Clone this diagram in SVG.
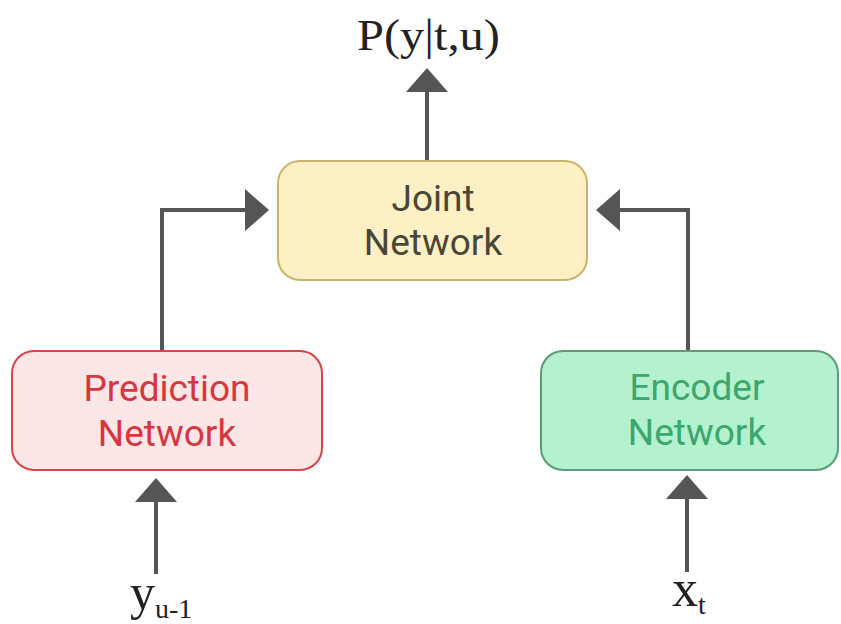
<svg xmlns="http://www.w3.org/2000/svg" width="841" height="624" viewBox="0 0 841 624">
<style>
.lbl{font-family:Roboto,"Liberation Sans",sans-serif;font-size:37px;text-anchor:middle}
.math{font-family:"Liberation Serif","DejaVu Serif",serif;fill:#222}
.conn{stroke:#555;stroke-width:4;fill:none}
</style>
<defs>
<marker id="ah" viewBox="0 0 24 42" refX="1" refY="21" markerWidth="24" markerHeight="42" markerUnits="userSpaceOnUse" orient="auto">
<path d="M0,0 L24,21 L0,42 z" fill="#555"/>
</marker>
</defs>
<rect width="841" height="624" fill="#fff"/>
<g id="connectors">
<polyline class="conn" points="162,350 162,210 246,210" marker-end="url(#ah)"/>
<polyline class="conn" points="688,350 688,210 619,210" marker-end="url(#ah)"/>
<line class="conn" x1="427" y1="161" x2="427" y2="91" marker-end="url(#ah)"/>
<line class="conn" x1="156" y1="574" x2="156" y2="501" marker-end="url(#ah)"/>
<line class="conn" x1="687" y1="572" x2="687" y2="498" marker-end="url(#ah)"/>
</g>
<g id="joint">
<rect x="278" y="161" width="309" height="119" rx="22" fill="#fdf0c4" stroke="#c9b46e" stroke-width="2"/>
<text class="lbl" x="433" y="211" fill="#4a4636">Joint</text>
<text class="lbl" x="433" y="255" fill="#4a4636">Network</text>
</g>
<g id="prediction">
<rect x="12" y="351" width="310" height="119" rx="22" fill="#fde6e6" stroke="#d5454c" stroke-width="2"/>
<text class="lbl" x="167" y="401" fill="#d6363f">Prediction</text>
<text class="lbl" x="167" y="446" fill="#d6363f">Network</text>
</g>
<g id="encoder">
<rect x="541" y="351" width="297" height="119" rx="22" fill="#b3f1cf" stroke="#5c9a7a" stroke-width="2"/>
<text class="lbl" x="697" y="400" fill="#3da66b">Encoder</text>
<text class="lbl" x="697" y="445" fill="#3da66b">Network</text>
</g>
<g id="output">
<text class="math" x="357" y="50" font-size="44" textLength="143" lengthAdjust="spacingAndGlyphs">P(y|t,u)</text>
</g>
<g id="input-y">
<text class="math" x="130" y="609" font-size="50">y<tspan font-size="28" dy="9">u-1</tspan></text>
</g>
<g id="input-x">
<text class="math" x="672" y="606" font-size="52">x<tspan font-size="28" dy="8">t</tspan></text>
</g>
</svg>
